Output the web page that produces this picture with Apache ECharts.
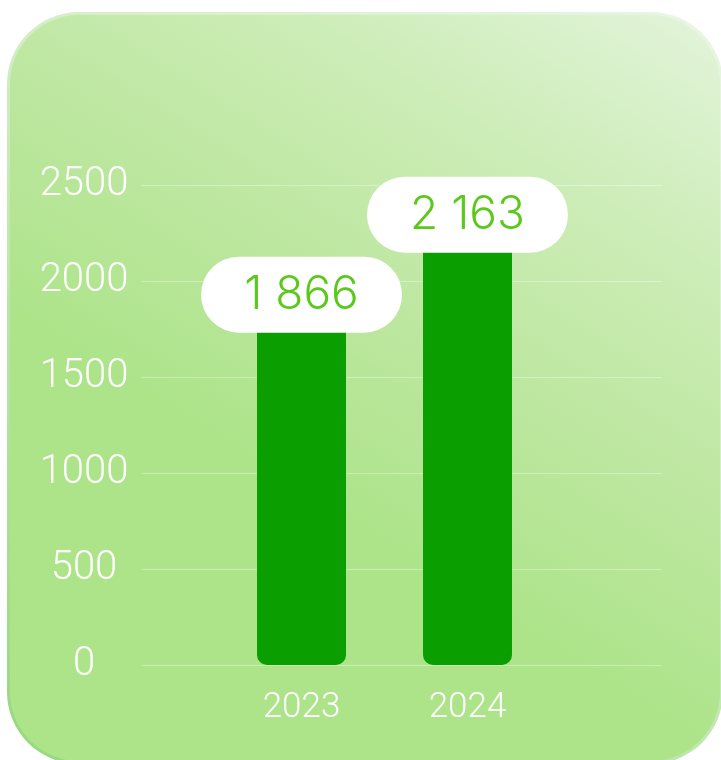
<!DOCTYPE html>
<html>
<head>
<meta charset="utf-8">
<script src="https://cdn.jsdelivr.net/npm/echarts@6/dist/echarts.min.js"></script>
<style>
  html, body { margin: 0; padding: 0; background: #fff; }
  .wrap { position: relative; width: 721px; height: 760px; overflow: hidden; }
  .card-edge {
    position: absolute; left: 7px; top: 12px; width: 716px; height: 752px;
    border-radius: 72px;
    background: linear-gradient(215deg, #e9f6e4 0%, #d3eec6 40%, #94d97c 100%);
  }
  .card {
    position: absolute; left: 10px; top: 15px; width: 710px; height: 746px;
    border-radius: 69px;
    background: linear-gradient(212deg, #e3f4db 0%, #cdedb8 22%, #bde7a0 42%, #ade48a 62%, #ade48a 100%);
  }
  #main { position: absolute; left: 0; top: 0; width: 721px; height: 760px; }
</style>
</head>
<body>
<div class="wrap">
  <div class="card-edge"></div>
  <div class="card"></div>
  <div id="main"></div>
</div>
<script>
let log = console.log.bind(console)

// 数据
const years = ['2023', '2024']
const amounts = [1866, 2163]
const yTicks = [0, 500, 1000, 1500, 2000, 2500]

// 标签往下压一点 (px)
const labelSink = [26, 3]

const axisFont = 'Roboto'
const pillFont = 'Inter'

// 千位用空格
let fmt = function(n) {
    return String(n).replace(/\B(?=(\d{3})+(?!\d))/g, ' ')
}

let huatu = function() {
    let myChart = echarts.init(document.getElementById('main'), null, { renderer: 'canvas' })

    let barData = amounts.map(function(v, i) {
        return {
            value: v,
            label: { distance: -labelSink[i] },
        }
    })

    let option = {
        backgroundColor: 'transparent',
        animation: false,
        grid: [
            // 网格线和y轴
            { left: 142, right: 59, top: 185, bottom: 95 },
            // 柱子
            { left: 218.5, right: 170.5, top: 185, bottom: 95 },
        ],
        xAxis: [
            { type: 'category', gridIndex: 0, data: years, show: false },
            {
                type: 'category',
                gridIndex: 1,
                data: years,
                axisLine: { show: false },
                axisTick: { show: false },
                axisLabel: {
                    color: '#ffffff',
                    fontFamily: axisFont,
                    fontWeight: 300,
                    fontSize: 35,
                    margin: 26,
                },
            },
        ],
        yAxis: [
            {
                type: 'value',
                gridIndex: 0,
                min: yTicks[0],
                max: yTicks[yTicks.length - 1],
                interval: yTicks[1] - yTicks[0],
                axisLine: { show: false },
                axisTick: { show: false },
                splitLine: { lineStyle: { color: 'rgba(255,255,255,0.35)', width: 1 } },
                axisLabel: {
                    color: '#ffffff',
                    fontFamily: axisFont,
                    fontWeight: 300,
                    fontSize: 40,
                    align: 'center',
                    margin: 58,
                    padding: [0, 0, 16, 0],
                    formatter: function(v) {
                        return String(v)
                    },
                },
            },
            {
                type: 'value',
                gridIndex: 1,
                min: yTicks[0],
                max: yTicks[yTicks.length - 1],
                show: false,
                splitLine: { show: false },
            },
        ],
        series: [{
            name: '数量',
            type: 'bar',
            xAxisIndex: 1,
            yAxisIndex: 1,
            data: barData,
            barWidth: 89,
            itemStyle: {
                color: '#0a9e00',
                borderRadius: [0, 0, 10, 10],
            },
            label: {
                show: true,
                position: 'top',
                formatter: function(p) {
                    return fmt(p.value)
                },
                backgroundColor: '#ffffff',
                borderRadius: 38,
                width: 201,
                height: 76,
                lineHeight: 76,
                padding: 0,
                align: 'center',
                color: '#5ac91c',
                fontFamily: pillFont,
                fontWeight: 300,
                fontSize: 46,
            },
        }],
    }

    myChart.setOption(option)
}
huatu()
</script>
</body>
</html>
